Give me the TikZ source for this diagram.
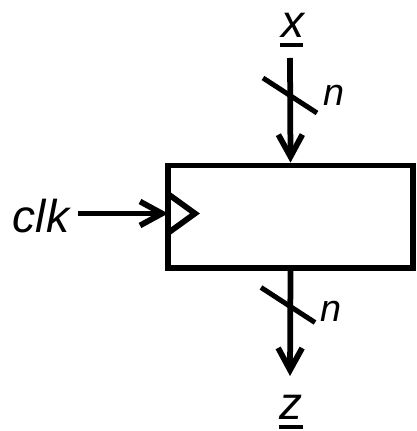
\documentclass[tikz,border=0pt]{standalone}
\usepackage{fontspec}
\setmainfont{Liberation Sans}
\usetikzlibrary{arrows.meta}
\begin{document}
\begin{tikzpicture}[x=0.02cm,y=-0.02cm,line width=0.115cm,
  every node/.style={font=\fontsize{21.5}{25}\selectfont\itshape,inner sep=0pt},
  big/.style={font=\fontsize{26.2}{30}\selectfont\itshape},
  wire/.style={-{Straight Barb[length=0.44cm,width=0.48cm]}},
  slash/.style={line width=0.1cm},
  ul/.style={line width=0.08cm},
  reg/.style={draw,minimum width=4.9cm,minimum height=2.05cm}]
\useasboundingbox (0,0) rectangle (416,431);
\node[reg] (r) at (290.5,216.75) {};
% inputs and outputs
\node[big] (x) at (293,25) {x};
\node[big] (z) at (291,407) {z};
\node[big,anchor=base west] (clk) at (10,233) {clk};
\coordinate (xin) at (290,58);
\coordinate (zout) at (290,376);
\coordinate (ck) at (168,213.5);
\draw[wire] (xin)--(r.north);
\draw[wire] (r.south)--(zout);
\draw[wire] ([xshift=0.12cm]clk.east |- ck)--(ck);
\draw[line join=miter] (168,194)--(195,213.5)--(168,233);
% bus width
\coordinate (xs) at (290,95.5);
\coordinate (zs) at (288,305);
\draw[slash] ([shift={(-27,-17.5)}]xs)--([shift={(27,17.5)}]xs);
\draw[slash] ([shift={(-27,-17.5)}]zs)--([shift={(27,17.5)}]zs);
\node (n1) at (334,95) {n};
\node (n2) at (331,311) {n};
\draw[ul] (280,45)--(303,45);
\draw[ul] (279,426.5)--(303,426.5);
\end{tikzpicture}
\end{document}
